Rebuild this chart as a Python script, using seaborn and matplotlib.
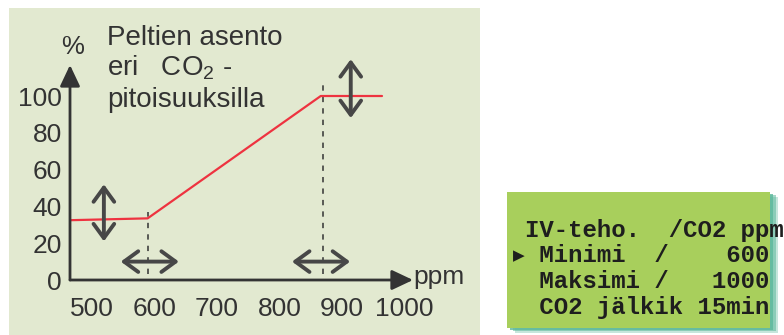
import numpy as np
import pandas as pd
import matplotlib
matplotlib.use("Agg")
import matplotlib.pyplot as plt
import seaborn as sns
from matplotlib.patches import Rectangle

# data
ppm = [465, 589, 866, 964]
asento = [32.5, 33.5, 100, 100]
x_ticks = [500, 600, 700, 800, 900, 1000]
y_ticks = [0, 20, 40, 60, 80, 100]
knee_x = [589, 870]
knee_top = [37, 107]

# adjustment arrows (x0, y0, x1, y1) in data units
v_arrows = [(519, 52, 519, 21), (914, 120, 914, 88)]
h_arrows = [(546, 10, 639, 10), (820, 10, 913, 10)]

title_lines = ["Peltien asento", "eri   CO$_2$ -", "pitoisuuksilla"]
lcd_lines = ["IV-teho.  /CO2 ppm",
             " Minimi  /    600",
             " Maksimi /   1000",
             " CO2 jälkik 15min"]

sns.set_theme(style="white")
plt.rcParams['font.family'] = ['Liberation Sans', 'DejaVu Sans']
plt.rcParams['mathtext.fontset'] = 'custom'
plt.rcParams['mathtext.rm'] = 'Liberation Sans'
plt.rcParams['mathtext.default'] = 'regular'

W, H = 784, 335
fig = plt.figure(figsize=(W / 100, H / 100), dpi=100)
fig.patch.set_facecolor("white")

def fx(px):
    return px / W

def fy(py):
    return 1 - py / H

# light green panel behind the chart
fig.patches.append(Rectangle((fx(9), 0), fx(480) - fx(9), fy(8), transform=fig.transFigure,
                             facecolor="#E2E9D0", edgecolor="none", zorder=-5))

# axes: y-axis at px 70, x-axis at px 280, arrow tips at px 413 / 65
ax = fig.add_axes([fx(70), fy(280), fx(413) - fx(70), fy(65) - fy(280)])
ax.set_zorder(1)
ax.set_facecolor("none")
ax.patch.set_alpha(0)
px_per_x = 0.625
px_per_y = 1.84
xmin = 500 - 22 / px_per_x
ax.set_xlim(xmin, xmin + 343 / px_per_x)
ax.set_ylim(0, 215 / px_per_y)

df = pd.DataFrame({"ppm": ppm, "asento": asento})
sns.lineplot(data=df, x="ppm", y="asento", ax=ax, color="#EE3340", lw=1.6, zorder=3, clip_on=False)

for kx, kt in zip(knee_x, knee_top):
    ax.plot([kx, kx], [3, kt], color="#333333", lw=1.1, ls=(0, (3.5, 4)), zorder=2, clip_on=False)

axis_col = "#333333"
for spine in ax.spines.values():
    spine.set_visible(False)
arr = dict(arrowstyle="-|>,head_length=0.72,head_width=0.34", mutation_scale=18,
           lw=2, color=axis_col, shrinkA=0, shrinkB=0)
ax.annotate("", xy=(1, 0), xytext=(0, 0), xycoords="axes fraction", arrowprops=arr)
ax.annotate("", xy=(0, 1), xytext=(0, 0), xycoords="axes fraction", arrowprops=arr)

dbl = dict(arrowstyle="<->,head_length=0.85,head_width=0.62", mutation_scale=12,
           lw=2.8, color="#474747", shrinkA=0, shrinkB=0)
for x0, y0, x1, y1 in v_arrows + h_arrows:
    ax.annotate("", xy=(x1, y1), xytext=(x0, y0), xycoords="data",
                arrowprops=dbl, annotation_clip=False)

ax.set_xticks(x_ticks)
ax.set_yticks(y_ticks)
ax.tick_params(length=0, labelsize=19, labelcolor="#333333")
ax.tick_params(axis="x", pad=12)
ax.tick_params(axis="y", pad=6)
ax.set_xlabel("")
ax.set_ylabel("")
ax.grid(False)

fig.text(fx(73), fy(47), "%", fontsize=18.5, color="#333333", ha="center", va="center")
fig.text(fx(413), fy(277), "ppm", fontsize=19, color="#333333", ha="left", va="center")

for i, line in enumerate(title_lines):
    fig.text(fx(107), fy(45 + 31 * i), line, fontsize=20, color="#333333",
             ha="left", va="baseline")

# LCD display box with shadow
for k, a in enumerate([0.35, 0.55, 0.8]):
    off = 8 - 2.5 * k
    fig.patches.append(Rectangle((fx(507 + off), fy(328 + off * 0.6)), fx(263), fy(192) - fy(328),
                                 transform=fig.transFigure, facecolor="#5DB89C",
                                 alpha=a, edgecolor="none", zorder=1))
fig.patches.append(Rectangle((fx(507), fy(328)), fx(263), fy(192) - fy(328),
                             transform=fig.transFigure, facecolor="#A8CF5C",
                             edgecolor="none", zorder=2))

for i, line in enumerate(lcd_lines):
    fig.text(fx(525), fy(230 + 25.7 * i), line, fontsize=17.3, family="Liberation Mono",
             weight="bold", color="#1e1e1e", ha="left", va="center", zorder=3)
fig.text(fx(519), fy(256), "▶", fontsize=11, family="DejaVu Sans", color="#1e1e1e",
         ha="center", va="center", zorder=3)

fig.savefig("out.png", dpi=100)
